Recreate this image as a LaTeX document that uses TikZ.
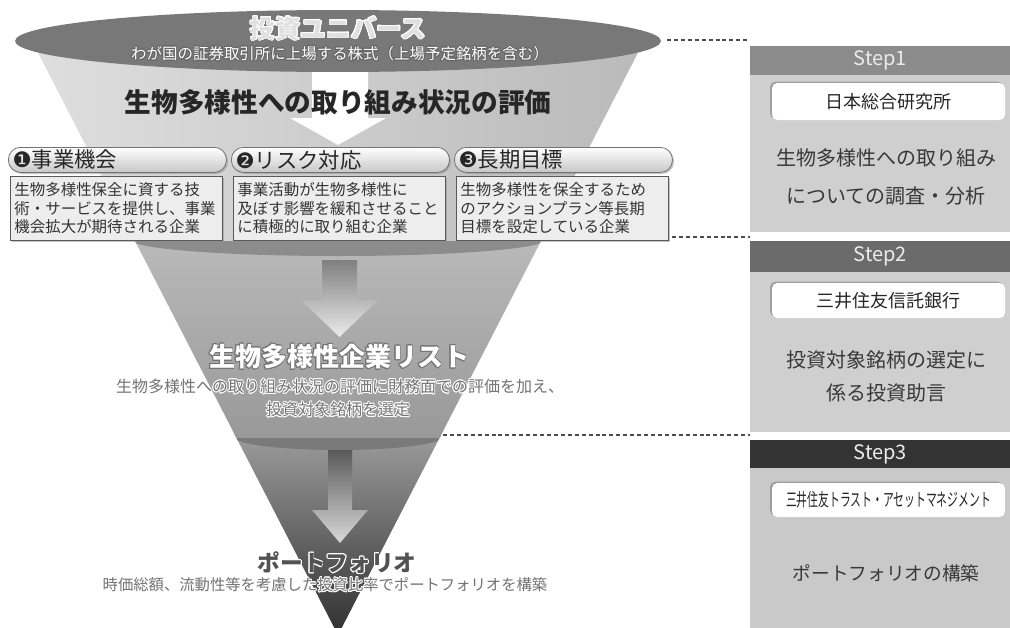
\documentclass[tikz,border=0pt]{standalone}
\usepackage{fontspec}
\setmainfont{Noto Sans CJK JP}
\newfontfamily\dingfont{DejaVu Sans}
\usepackage{contour}
\contourlength{0.6pt}
\usetikzlibrary{shapes.geometric,shadows}
\begin{document}
\begin{tikzpicture}[x=0.75pt,y=-0.75pt,
  descbox/.style={draw=black!65, line width=0.6pt, fill=black!7, minimum width=159pt, minimum height=48pt, inner xsep=3pt, text width=153pt, align=left, font=\fontsize{11.6}{13.9}\selectfont, text=black!80, anchor=north west, drop shadow={shadow xshift=1.5pt, shadow yshift=-1.5pt, fill=black!45}},
  pill/.style={draw=black!55, line width=0.6pt, rounded corners=9pt, top color=white, bottom color=black!22, minimum width=163.5pt, minimum height=18.75pt, inner xsep=3pt, inner ysep=0pt, text width=157pt, align=left, font=\fontsize{16}{16}\selectfont, text=black!85, anchor=north west, drop shadow={shadow xshift=1.2pt, shadow yshift=-1.2pt, fill=black!45}},
  stephead/.style={fill=#1, text=black!8, font=\fontsize{15}{15}\selectfont, minimum width=195pt, inner sep=0pt, anchor=north west},
  stepbody/.style={fill=black!19, minimum width=195pt, inner sep=0pt, anchor=north west},
  wbox/.style={fill=white, rounded corners=4pt, minimum width=174.75pt, inner sep=0pt, font=\fontsize{13.5}{13.5}\selectfont, text=black!85, drop shadow={shadow xshift=-1.5pt, shadow yshift=1pt, fill=black!55}},
  steptext/.style={align=center, text=black!78},
  dashline/.style={draw=black!70, line width=0.9pt, dash pattern=on 3pt off 2.2pt}
]
\useasboundingbox (0,0) rectangle (1010,628);
\fill[white] (0,0) rectangle (1010,628);

% ---------------- funnel ----------------
\begin{scope}
\clip (32,41) -- (644,41) -- (338,635) -- cycle;
\shade[top color=black!38, bottom color=black!82] (200,430) -- (480,430) -- (338,640) -- cycle;
\fill[black!52] (338,437) ellipse [x radius=104, y radius=13];
\shade[top color=black!27, bottom color=black!40] (100,236) -- (580,236) -- (580,437) -- (100,437) -- cycle;
\fill[black!45] (338,240) ellipse [x radius=206, y radius=16];
\shade[left color=black!12, right color=black!28] (0,30) -- (680,30) -- (680,240) -- (0,240) -- cycle;
\end{scope}
\node[ellipse, fill=black!53, minimum width=484.5pt, minimum height=46.5pt, inner sep=0pt] (univ) at (338,41) {};

% block arrows
\fill[white] (312,72) -- (368,72) -- (368,118) -- (386,118) -- (338,145) -- (290,118) -- (312,118) -- cycle;
\shade[top color=black!50, bottom color=black!8] (322,260) -- (357,260) -- (357,300) -- (378,300) -- (339.5,337) -- (301,300) -- (322,300) -- cycle;
\shade[top color=black!65, bottom color=black!15] (328,450) -- (352,450) -- (352,510) -- (368,510) -- (340,543) -- (312,510) -- (328,510) -- cycle;

% funnel texts
\node (univt) at (338,29) {\fontsize{19}{19}\selectfont\bfseries\color{black!12}\contour{white}{投資ユニバース}};
\node (univs) at (340,54) {\fontsize{11.6}{11.6}\selectfont\color{white}\contour{black!60}{わが国の証券取引所に上場する株式（上場予定銘柄を含む）}};
\node (evalt) at (338,102) {\fontsize{20}{20}\selectfont\bfseries\color{black!85}生物多様性への取り組み状況の評価};

\node[pill] (p1) at (8,147) {{\dingfont ❶}事業機会};
\node[pill] (p2) at (231,147) {{\dingfont ❷}リスク対応};
\node[pill] (p3) at (454,147) {{\dingfont ❸}長期目標};
\node[descbox] (d1) at (10,176) {生物多様性保全に資する技\\術・サービスを提供し、事業\\機会拡大が期待される企業};
\node[descbox] (d2) at (233,176) {事業活動が生物多様性に\\及ぼす影響を緩和させること\\に積極的に取り組む企業};
\node[descbox] (d3) at (456,176) {生物多様性を保全するため\\のアクションプラン等長期\\目標を設定している企業};

\node (listt) at (339,357) {\fontsize{19.5}{19.5}\selectfont\bfseries\color{white}\contour{black!55}{生物多様性企業リスト}};
\node (lists1) at (340,387) {\fontsize{12}{12}\selectfont\color{black!55}\contour{white}{生物多様性への取り組み状況の評価に財務面での評価を加え、}};
\node (lists2) at (338,410) {\fontsize{12}{12}\selectfont\color{black!55}\contour{white}{投資対象銘柄を選定}};

\node (portt) at (337,563) {\fontsize{17}{17}\selectfont\bfseries\color{black!68}\contour{white}{ポートフォリオ}};
\node (ports) at (325,585) {\fontsize{11.5}{11.5}\selectfont\color{black!55}\contour{white}{時価総額、流動性等を考慮した投資比率でポートフォリオを構築}};

% ---------------- right panels ----------------
\node[stephead=black!45, minimum height=21.75pt] (h1) at (750,46) {Step1};
\node[stepbody, minimum height=117.75pt] (b1) at (750,75) {};
\node[stephead=black!58, minimum height=23.25pt] (h2) at (750,241) {Step2};
\node[stepbody, minimum height=120pt] (b2) at (750,272) {};
\node[stephead=black!80, minimum height=21pt] (h3) at (750,440) {Step3};
\node[stepbody, fill=black!21, minimum height=120pt] (b3) at (750,468) {};

\node[wbox, minimum height=27.75pt] (w1) at (888.5,101.5) {日本総合研究所};
\node[wbox, minimum height=26.25pt] (w2) at (888.5,300.5) {三井住友信託銀行};
\node[wbox, minimum height=25.5pt] (w3) at (888.5,500) {\scalebox{0.6}[1]{三井住友トラスト・アセットマネジメント}};

\node[steptext, font=\fontsize{15}{29}\selectfont] (t1) at (886,177) {生物多様性への取り組み\\についての調査・分析};
\node[steptext, font=\fontsize{15}{24.75}\selectfont] (t2) at (886,376.5) {投資対象銘柄の選定に\\係る投資助言};
\node[steptext, font=\fontsize{14}{14}\selectfont] (t3) at (886,573) {ポートフォリオの構築};

% ---------------- dashed connectors ----------------
\coordinate (c1) at (667,40);
\coordinate (c2) at (672,237);
\coordinate (c3) at (443,435);
\draw[dashline] (c1) -- (c1 -| b1.west);
\draw[dashline] (c2) -- (c2 -| b1.west);
\draw[dashline] (c3) -- (c3 -| b1.west);
\end{tikzpicture}
\end{document}
